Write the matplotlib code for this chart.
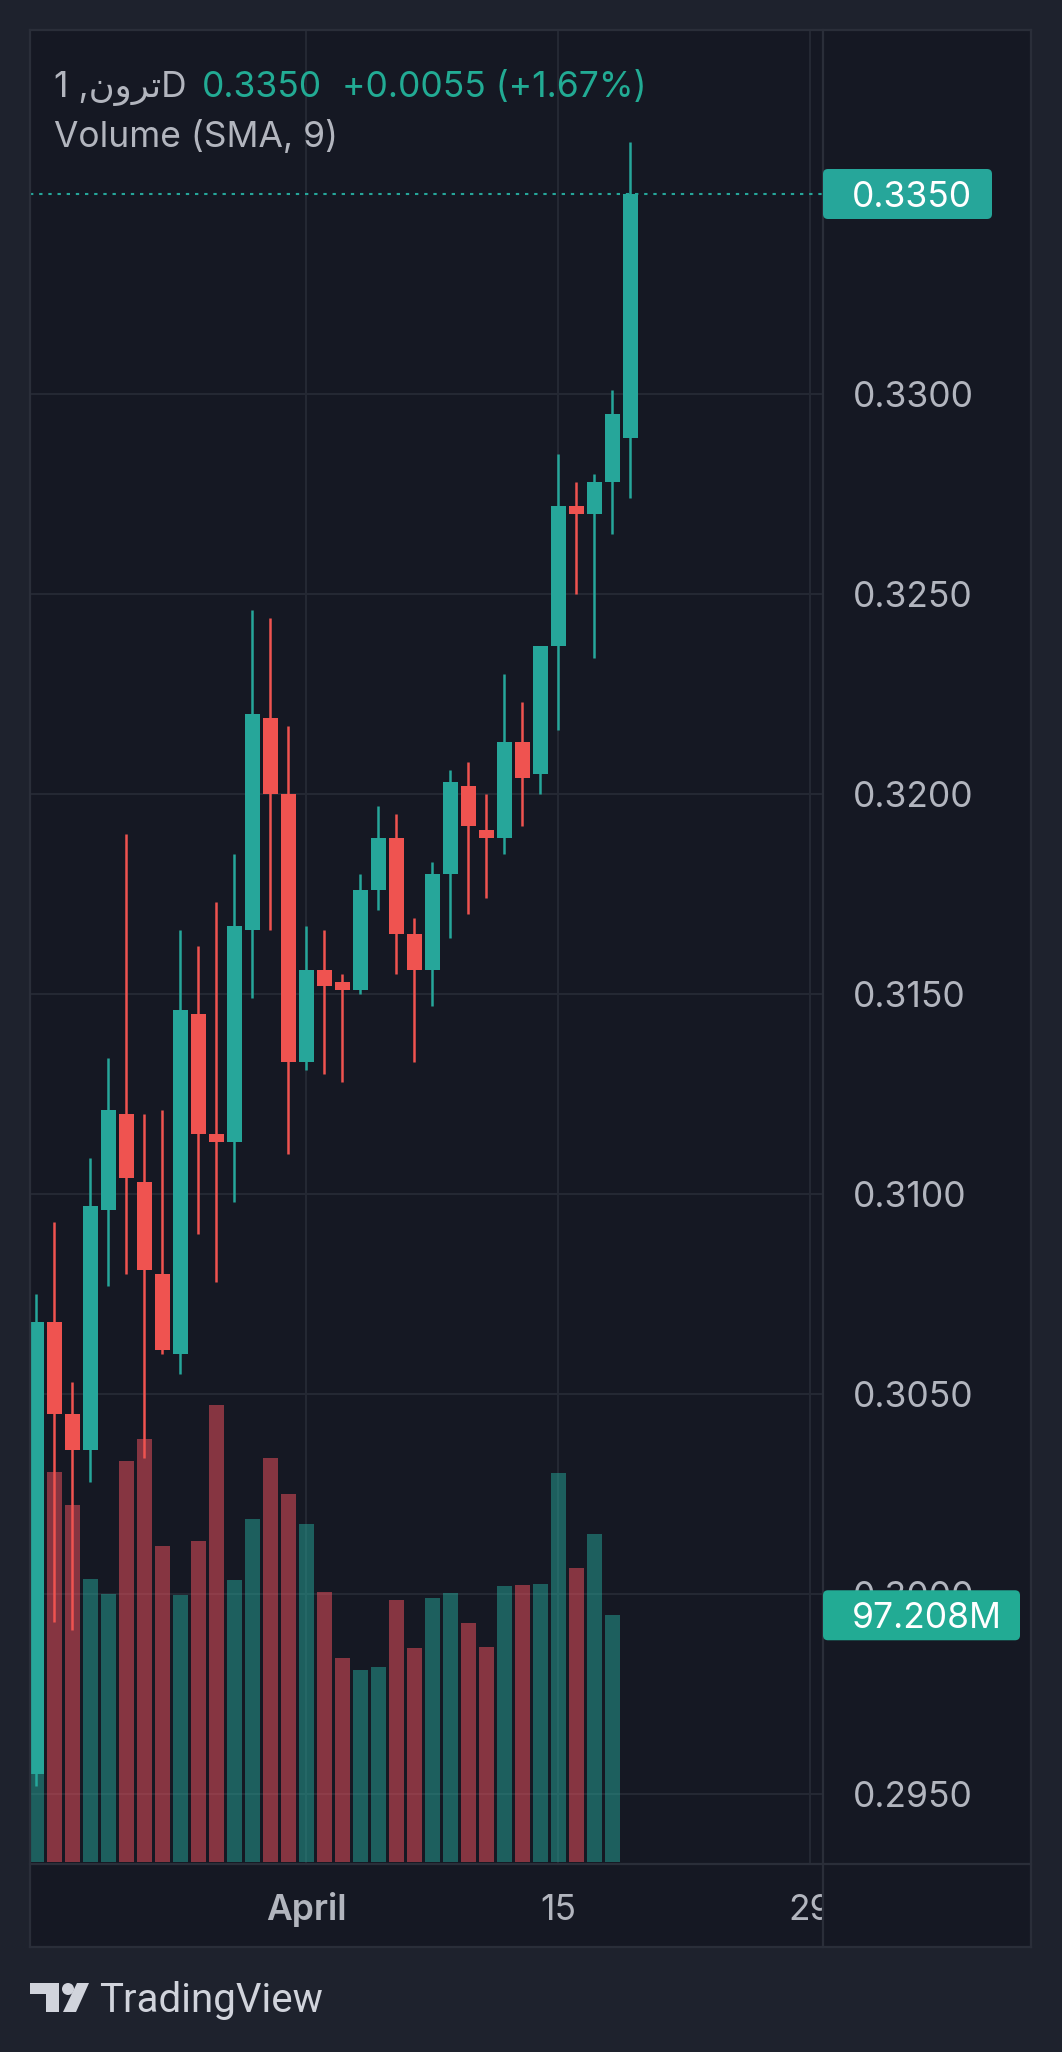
import numpy as np
import matplotlib
matplotlib.use('Agg')
import matplotlib.pyplot as plt
from matplotlib.patches import Rectangle, FancyBboxPatch, Polygon, Circle
from matplotlib.lines import Line2D
import matplotlib.transforms as mtransforms

# ---------------- data (daily candles, 17 Mar .. 19 Apr) ----------------
opens = [0.2955, 0.3068, 0.3045, 0.3036, 0.3096, 0.3120, 0.3103, 0.3080, 0.3060, 0.3145,
         0.3115, 0.3113, 0.3166, 0.3219, 0.3200, 0.3133, 0.3156, 0.3153, 0.3151, 0.3176,
         0.3189, 0.3165, 0.3156, 0.3180, 0.3202, 0.3191, 0.3189, 0.3213, 0.3205, 0.3237,
         0.3272, 0.3270, 0.3278, 0.3289]
highs = [0.3075, 0.3093, 0.3053, 0.3109, 0.3134, 0.3190, 0.3120, 0.3121, 0.3166, 0.3162,
         0.3173, 0.3185, 0.3246, 0.3244, 0.3217, 0.3167, 0.3166, 0.3155, 0.3180, 0.3197,
         0.3195, 0.3169, 0.3183, 0.3206, 0.3208, 0.3200, 0.3230, 0.3223, 0.3237, 0.3285,
         0.3278, 0.3280, 0.3301, 0.3363]
lows = [0.2952, 0.2993, 0.2991, 0.3028, 0.3077, 0.3080, 0.3034, 0.3060, 0.3055, 0.3090,
        0.3078, 0.3098, 0.3149, 0.3166, 0.3110, 0.3131, 0.3130, 0.3128, 0.3150, 0.3171,
        0.3155, 0.3133, 0.3147, 0.3164, 0.3170, 0.3174, 0.3185, 0.3192, 0.3200, 0.3216,
        0.3250, 0.3234, 0.3265, 0.3274]
closes = [0.3068, 0.3045, 0.3036, 0.3097, 0.3121, 0.3104, 0.3081, 0.3061, 0.3146, 0.3115,
          0.3113, 0.3167, 0.3220, 0.3200, 0.3133, 0.3156, 0.3152, 0.3151, 0.3176, 0.3189,
          0.3165, 0.3156, 0.3180, 0.3203, 0.3192, 0.3189, 0.3213, 0.3204, 0.3237, 0.3272,
          0.3270, 0.3278, 0.3295, 0.3350]
# volume in millions (last candle has no volume bar drawn)
volumes = [120.0, 153.6, 140.6, 111.4, 105.5, 157.9, 166.6, 124.4, 105.1, 126.4,
           180.0, 111.0, 135.0, 159.1, 144.9, 133.1, 106.3, 80.3, 75.5, 76.7,
           103.1, 84.2, 103.9, 105.9, 94.1, 84.6, 108.6, 109.0, 109.4, 153.2,
           115.7, 129.1, 97.208]

price_ticks = [0.2950, 0.3000, 0.3050, 0.3100, 0.3150, 0.3200, 0.3250, 0.3300]
time_labels = ['April', '15', '29']
time_label_idx = [15, 29, 43]
time_label_bold = [True, False, False]
symbol_text = "1 ," + "\uFEE5\uFEED\uFEAE\uFE97" + "D"
indicator_text = "Volume (SMA, 9)"

# ---------------- style ----------------
W, H = 1062, 2052
BG_OUT = '#1e222d'
BG_PANE = '#151823'
GRID = '#242833'
FRAME = '#2a2e39'
UP = '#26a69a'
DOWN = '#ef5350'
VOL_UP = (0.149, 0.651, 0.604, 0.5)
VOL_DOWN = (0.969, 0.322, 0.373, 0.5)
TXT = '#b2b5be'
FONT = ['Inter', 'DejaVu Sans']
FS = 25.5

plt.rcParams['font.family'] = FONT

fig = plt.figure(figsize=(W / 100, H / 100), dpi=100, facecolor=BG_OUT)

L, R, T, B = 30, 823, 30, 1864      # price pane in px
FR, FB = 1031, 1947                # outer frame right / bottom


def frect(l, t, r, b):
    return [l / W, 1 - b / H, (r - l) / W, (b - t) / H]


XLIM = (-0.356, 43.70)
YLIM = (0.29325, 0.33910)
VLIM = (-0.79, 721.8)

# overlay axes in pixel coordinates
ax_ov = fig.add_axes([0, 0, 1, 1], zorder=10)
ax_ov.set_xlim(0, W)
ax_ov.set_ylim(H, 0)
ax_ov.axis('off')

# background of frame
bgax = fig.add_axes([0, 0, 1, 1], zorder=0)
bgax.set_xlim(0, W)
bgax.set_ylim(H, 0)
bgax.axis('off')
bgax.add_patch(Rectangle((L, T), FR - L, FB - T, facecolor=BG_PANE, edgecolor='none'))

ax_grid = fig.add_axes(frect(L, T, R, B), zorder=1)
ax_vol = fig.add_axes(frect(L, T, R, B), zorder=2, sharex=ax_grid)
ax_c = fig.add_axes(frect(L, T, R, B), zorder=3, sharex=ax_grid)
for a in (ax_grid, ax_vol, ax_c):
    a.axis('off')
    a.set_xlim(*XLIM)
ax_grid.set_ylim(*YLIM)
ax_c.set_ylim(*YLIM)
ax_vol.set_ylim(*VLIM)

# grid
for p in price_ticks:
    ax_grid.axhline(p, color=GRID, lw=1.5)
for i in time_label_idx:
    ax_grid.axvline(i, color=GRID, lw=1.5)

# volume bars
n_vol = len(volumes)
vx = np.arange(n_vol)
vcol = [VOL_UP if closes[i] >= opens[i] else VOL_DOWN for i in range(n_vol)]
ax_vol.bar(vx, volumes, width=0.83, color=vcol, linewidth=0)

# candles
x = np.arange(len(opens))
o = np.array(opens); c = np.array(closes)
ccol = [UP if cc >= oo else DOWN for oo, cc in zip(opens, closes)]
ax_c.vlines(x, lows, highs, colors=ccol, lw=1.8, zorder=2)
body_b = np.minimum(o, c)
body_h = np.maximum(np.abs(c - o), 0.00003)
ax_c.bar(x, body_h, bottom=body_b, width=0.83, color=ccol, linewidth=0, zorder=3)

# last price dotted line
ax_c.axhline(closes[-1], color=UP, lw=1.5, ls=(0, (1.6, 2.8)), zorder=1)


def price_px(p):
    return H - ax_c.transData.transform((0, p))[1]


def vol_px(v):
    return H - ax_vol.transData.transform((0, v))[1]


# frame lines
for (x0, y0, x1, y1) in [(L, T, FR, T), (L, FB, FR, FB), (L, T, L, FB), (FR, T, FR, FB),
                         (L, B, FR, B), (R, T, R, FB)]:
    ax_ov.add_line(Line2D([x0, x1], [y0, y1], color=FRAME, lw=1.6, zorder=5))

# price axis labels
digit_h = 0.727 * FS * 100 / 72
for p in price_ticks:
    ax_ov.text(853, price_px(p) + digit_h / 2, f"{p:.4f}", fontsize=FS, color=TXT,
               ha='left', va='baseline', zorder=2)

# last price box
yp = price_px(closes[-1])
ax_ov.add_patch(FancyBboxPatch((823, yp - 25), 169, 50,
                               boxstyle='round,pad=0,rounding_size=5',
                               facecolor='#26a69a', edgecolor='none', zorder=6))
ax_ov.text(852, yp + digit_h / 2, f"{closes[-1]:.4f}", fontsize=FS, color='white',
           ha='left', va='baseline', zorder=7)

# volume box
yv = vol_px(volumes[-1])
ax_ov.add_patch(FancyBboxPatch((823, yv - 25), 197, 50,
                               boxstyle='round,pad=0,rounding_size=5',
                               facecolor='#22ab94', edgecolor='none', zorder=6))
ax_ov.text(852, yv + digit_h / 2, f"{volumes[-1]:.3f}M", fontsize=FS, color='white',
           ha='left', va='baseline', zorder=7)

# time axis labels (clipped at the price scale)
ax_t = fig.add_axes(frect(L, B, R, FB), zorder=4, sharex=ax_grid)
ax_t.axis('off')
ax_t.set_xlim(*XLIM)
tt = mtransforms.blended_transform_factory(ax_t.transData, ax_t.transAxes)
for lab, i, bold in zip(time_labels, time_label_idx, time_label_bold):
    ax_t.text(i, (FB - 1920) / (FB - B), lab, transform=tt, fontsize=FS, color=TXT,
              ha='center', va='baseline', fontweight='semibold' if bold else 'normal',
              clip_on=True)

# header
chg = closes[-1] - closes[-2]
pct = chg / closes[-2] * 100
ax_ov.text(54, 97, symbol_text, fontsize=FS, color=TXT, ha='left', va='baseline',
           family=FONT)
ax_ov.text(202, 97, f"{closes[-1]:.4f}", fontsize=FS, color='#22ab94', ha='left', va='baseline')
ax_ov.text(342, 97, f"{chg:+.4f} ({pct:+.2f}%)", fontsize=FS, color='#22ab94',
           ha='left', va='baseline')
ax_ov.text(54, 147, indicator_text, fontsize=FS, color=TXT, ha='left', va='baseline')

# TradingView logo
LOGO = '#d1d4dc'
ax_ov.add_patch(Polygon([(30, 1983), (59, 1983), (59, 2012), (46, 2012), (46, 1994), (30, 1994)],
                        closed=True, facecolor=LOGO, edgecolor='none'))
ax_ov.add_patch(Circle((68, 1989), 6, facecolor=LOGO, edgecolor='none'))
ax_ov.add_patch(Polygon([(77, 1983), (89, 1983), (76, 2012), (63, 2012)],
                        closed=True, facecolor=LOGO, edgecolor='none'))
ax_ov.text(99, 2012, 'TradingView', fontsize=29, color=LOGO, ha='left', va='baseline',
           family=['Roboto', 'DejaVu Sans'])

fig.savefig('out.png', dpi=100, facecolor=BG_OUT)
